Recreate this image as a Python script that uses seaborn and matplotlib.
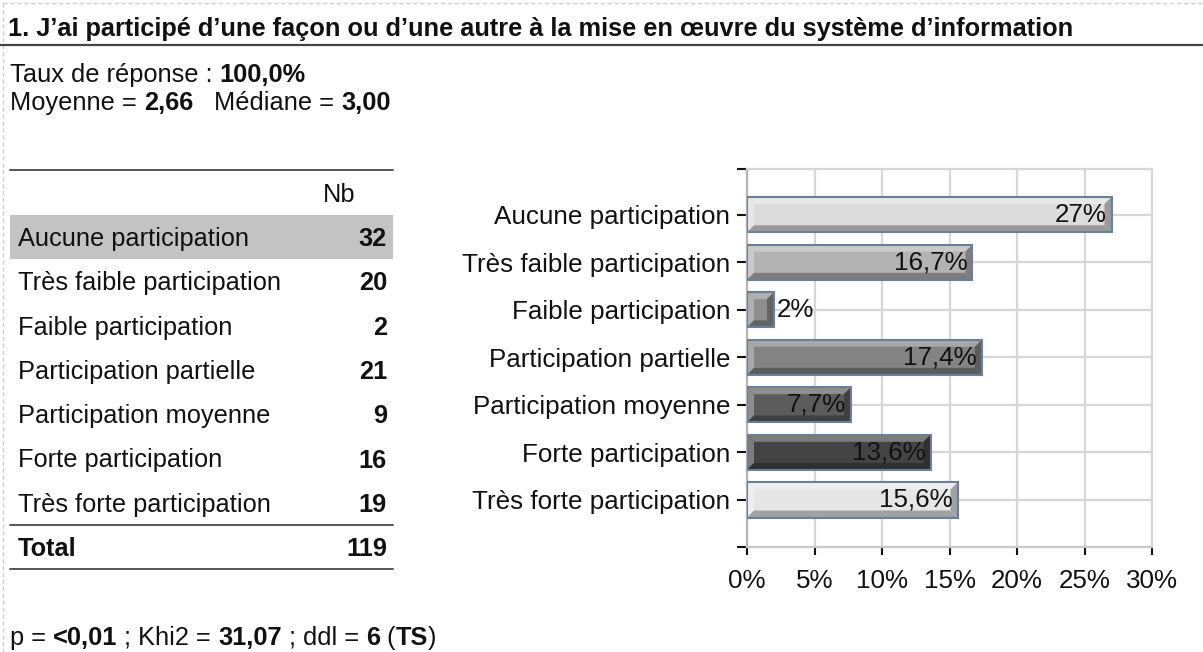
import matplotlib
matplotlib.use("Agg")
import matplotlib.pyplot as plt
import matplotlib.transforms as mtransforms
from matplotlib.lines import Line2D
from matplotlib.patches import Polygon, Rectangle
import matplotlib.colors as mcolors
import numpy as np
import pandas as pd
import seaborn as sns

# ---- data -------------------------------------------------------------
title = "1. J’ai participé d’une façon ou d’une autre à la mise en œuvre du système d’information"
categories = [
    "Aucune participation",
    "Très faible participation",
    "Faible participation",
    "Participation partielle",
    "Participation moyenne",
    "Forte participation",
    "Très forte participation",
]
counts = [32, 20, 2, 21, 9, 16, 19]
total_count = 119
percents = [27.0, 16.7, 2.0, 17.4, 7.7, 13.6, 15.6]
bar_colors = ["#dcdcdc", "#b3b3b3", "#8e8e8e", "#838383", "#5c5c5c", "#444444", "#e6e6e6"]
x_ticks = [0, 5, 10, 15, 20, 25, 30]
x_tick_labels = ["0%", "5%", "10%", "15%", "20%", "25%", "30%"]
response_rate = "100,0%"
mean_txt, median_txt = "2,66", "3,00"
p_txt, khi2_txt, ddl_txt, sig_txt = "<0,01", "31,07", "6", "TS"

df = pd.DataFrame({"category": categories, "percent": percents, "count": counts})

# ---- figure -----------------------------------------------------------
W, H, DPI = 1203, 652, 100
sns.set_theme(style="white")
plt.rcParams["font.family"] = ["Liberation Sans", "DejaVu Sans"]
fig = plt.figure(figsize=(W / DPI, H / DPI), dpi=DPI)
fig.patch.set_facecolor("white")
renderer = fig.canvas.get_renderer()
px = mtransforms.IdentityTransform()

TXT = "#111111"
BODY = 18.3
CHART = 18.7
LINE_C = "#555555"
VOFF = 2  # small downward nudge for centred text rows


def fy(y):
    """Pixel row measured from the top -> display y."""
    return H - y


def hline(x0, x1, y, color=LINE_C, lw=1.4, ls="-"):
    fig.add_artist(Line2D([x0, x1], [fy(y), fy(y)], transform=px, color=color, lw=lw, ls=ls))


def vline(x, y0, y1, color=LINE_C, lw=1.4, ls="-"):
    fig.add_artist(Line2D([x, x], [fy(y0), fy(y1)], transform=px, color=color, lw=lw, ls=ls))


def put(x, y, s, bold=False, ha="left", size=BODY):
    return fig.text(x, fy(y + VOFF), s, transform=px, fontsize=size, color=TXT,
                    fontweight="bold" if bold else "normal", va="center", ha=ha)


def rich(x, y, parts, size=BODY):
    """Draw consecutive text runs, some bold, starting at pixel x."""
    for s, bold in parts:
        t = put(x, y, s, bold=bold, size=size)
        x += t.get_window_extent(renderer).width


# frame and header
hline(3, W, 3, color="#cccccc", lw=1.0, ls=(0, (3, 2)))
vline(3, 3, H, color="#cccccc", lw=1.0, ls=(0, (3, 2)))
put(8, 27, title, bold=True)
hline(0, W, 45, color="#444444", lw=1.6)

rich(10, 73, [("Taux de réponse : ", False), (response_rate, True)])
rich(10, 101, [("Moyenne = ", False), (mean_txt, True), ("   Médiane = ", False), (median_txt, True)])

# ---- left table -------------------------------------------------------
tx0, tx1, num_x = 10, 393, 387
row_y0, row_step = 237, 44.3
hline(tx0, tx1, 170)
put(355, 193, "Nb", ha="right")
fig.add_artist(Rectangle((tx0, fy(row_y0 + row_step / 2)), tx1 - tx0, row_step,
                         transform=px, facecolor="#c3c3c3", edgecolor="none", zorder=0))
for i, (cat, n) in enumerate(zip(categories, counts)):
    yy = row_y0 + i * row_step
    put(18, yy, cat)
    put(num_x, yy, str(n), bold=True, ha="right")
y_tot = row_y0 + len(categories) * row_step
hline(tx0, tx1, y_tot - row_step / 2)
put(18, y_tot, "Total", bold=True)
put(num_x, y_tot, str(total_count), bold=True, ha="right")
hline(tx0, tx1, y_tot + row_step / 2)

rich(10, 636, [("p = ", False), (p_txt, True), (" ; Khi2 = ", False), (khi2_txt, True),
               (" ; ddl = ", False), (ddl_txt, True), (" (", False), (sig_txt, True), (")", False)])

# ---- bar chart --------------------------------------------------------
ax_l, ax_r, ax_t, ax_b = 747, 1152, 169, 547
ax = fig.add_axes([ax_l / W, 1 - ax_b / H, (ax_r - ax_l) / W, (ax_b - ax_t) / H])
sns.barplot(data=df, x="percent", y="category", hue="category", palette=bar_colors,
            orient="h", width=0.74, saturation=1, legend=False, edgecolor="none",
            linewidth=0, ax=ax, zorder=2)
ax.set_xlim(x_ticks[0], x_ticks[-1])
ylo, yhi = -0.96, len(categories) - 1 + 0.99
ax.set_ylim(yhi, ylo)
ax.set_xticks(x_ticks)
ax.set_xticklabels(x_tick_labels)
ax.set_xlabel("")
ax.set_ylabel("")
ax.set_axisbelow(True)
ax.grid(True, color="#d6d6d6", lw=1.6)
for side in ["left", "bottom", "top", "right"]:
    ax.spines[side].set_visible(True)
    ax.spines[side].set_color("#d6d6d6")
    ax.spines[side].set_linewidth(1.6)
ax.spines["left"].set_color("#b5b5b5")
ax.spines["bottom"].set_color("#c8c8c8")
ax.set_yticks([ylo, yhi], minor=True)
ax.tick_params(axis="y", which="both", length=7, width=1.5, color="#111111", pad=5,
               labelsize=CHART, labelcolor=TXT, left=True)
ax.tick_params(axis="x", length=6, width=1.5, color="#111111", pad=9.5,
               labelsize=CHART, labelcolor=TXT, bottom=True)

# bevelled faces, outline and value labels
fig.canvas.draw()
bb = ax.get_window_extent(renderer)
bevel = 7.0
dx = bevel * (x_ticks[-1] - x_ticks[0]) / bb.width
dy = bevel * (yhi - ylo) / bb.height
bars = sorted(ax.patches, key=lambda p: p.get_y())
for patch, pct in zip(bars, percents):
    x0, w = patch.get_x(), patch.get_width()
    y0, h = patch.get_y(), patch.get_height()
    x1, y1 = x0 + w, y0 + h  # y0 is the top edge (inverted axis)
    face = np.array(mcolors.to_rgb(patch.get_facecolor()))
    light = face + (1 - face) * 0.3
    dark = face * 0.7
    ax.add_patch(Polygon([(x0, y0), (x1, y0), (x1 - dx, y0 + dy), (x0 + dx, y0 + dy)],
                         closed=True, facecolor=light, edgecolor="none", zorder=3))
    ax.add_patch(Polygon([(x0, y0), (x0 + dx, y0 + dy), (x0 + dx, y1 - dy), (x0, y1)],
                         closed=True, facecolor=light, edgecolor="none", zorder=3))
    ax.add_patch(Polygon([(x0, y1), (x1, y1), (x1 - dx, y1 - dy), (x0 + dx, y1 - dy)],
                         closed=True, facecolor=dark, edgecolor="none", zorder=3))
    ax.add_patch(Polygon([(x1, y0), (x1, y1), (x1 - dx, y1 - dy), (x1 - dx, y0 + dy)],
                         closed=True, facecolor=dark, edgecolor="none", zorder=3))
    ax.add_patch(Rectangle((x0, y0), w, h, fill=False, edgecolor="#6b7f9c", lw=1.5, zorder=4))
    label = (f"{pct:.0f}%" if float(pct).is_integer() else f"{pct:.1f}%".replace(".", ","))
    yc = y0 + h / 2
    if pct >= 5:
        ax.annotate(label, (x1, yc), xytext=(-3.5, 0), textcoords="offset points",
                    ha="right", va="center", fontsize=CHART, color=TXT, zorder=5)
    else:
        ax.annotate(label, (x1, yc), xytext=(2, 0), textcoords="offset points",
                    ha="left", va="center", fontsize=CHART, color=TXT, zorder=5)

fig.savefig("out.png", dpi=DPI)
